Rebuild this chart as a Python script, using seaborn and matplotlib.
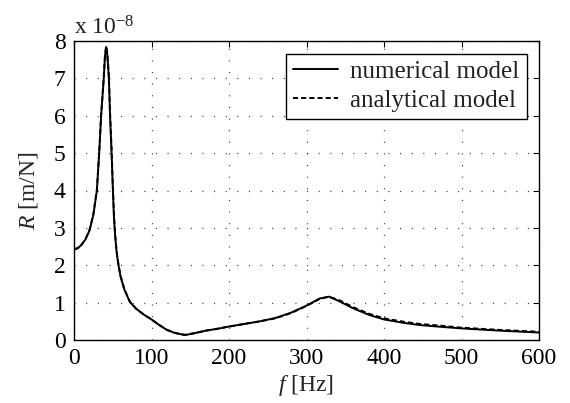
import os
import numpy as np
import pandas as pd
import matplotlib
matplotlib.use("Agg")
import matplotlib.pyplot as plt
from matplotlib import font_manager as fm
import seaborn as sns

# frequency [Hz]
freq = [0, 5, 10, 15, 20, 25, 29.5, 32.5, 35, 38.4, 40, 41.5, 43, 45, 46.5,
        48.5, 50, 51.5, 53, 55, 57, 60, 65, 72, 80, 90, 100, 110, 120, 130,
        143, 155, 170, 185, 200, 220, 240, 260, 280, 300, 317, 329, 343, 360,
        381, 400, 425, 446, 475, 500, 550, 600]
# receptance, numerical model [x 1e-8 m/N]
r_numerical = [2.42, 2.46, 2.55, 2.70, 2.93, 3.35, 4.0, 5.0, 6.0, 7.0, 7.6, 7.84,
               7.62, 7.0, 6.0, 5.0, 4.1, 3.3, 2.8, 2.35, 2.05, 1.7, 1.35, 1.02,
               0.84, 0.68, 0.55, 0.40, 0.27, 0.19, 0.13, 0.18, 0.25, 0.30, 0.36,
               0.43, 0.50, 0.59, 0.73, 0.92, 1.11, 1.16, 1.03, 0.85, 0.67, 0.55,
               0.46, 0.40, 0.35, 0.31, 0.25, 0.20]
# receptance, analytical model [x 1e-8 m/N]
r_analytical = [2.42, 2.46, 2.56, 2.71, 2.94, 3.37, 4.02, 5.02, 6.02, 7.02, 7.62, 7.86,
                7.68, 7.08, 6.1, 5.1, 4.2, 3.4, 2.85, 2.38, 2.07, 1.72, 1.36, 1.03,
                0.84, 0.68, 0.55, 0.40, 0.27, 0.19, 0.14, 0.18, 0.25, 0.30, 0.36,
                0.43, 0.50, 0.58, 0.72, 0.91, 1.10, 1.16, 1.06, 0.88, 0.70, 0.58,
                0.49, 0.43, 0.38, 0.33, 0.27, 0.22]

x_ticks = [0, 100, 200, 300, 400, 500, 600]
y_ticks = [0, 1, 2, 3, 4, 5, 6, 7, 8]
series_names = ["numerical model", "analytical model"]

# register any Times-like serif files explicitly
for path in fm.findSystemFonts():
    base = os.path.basename(path).lower()
    if ("liberationserif" in base or "tinos" in base or "times" in base
            or "nimbusroman" in base or "texgyretermes" in base):
        try:
            fm.fontManager.addfont(path)
        except Exception:
            pass
names = {f.name for f in fm.fontManager.ttflist}
serif = "DejaVu Serif"
for cand in ["Liberation Serif", "Times New Roman", "Tinos", "Nimbus Roman",
             "TeX Gyre Termes", "DejaVu Serif"]:
    if cand in names:
        serif = cand
        break

sns.set_theme(style="white")
plt.rcParams.update({
    "font.family": [serif, "DejaVu Serif"],
    "mathtext.fontset": "custom",
    "mathtext.rm": serif,
    "mathtext.it": serif + ":italic",
    "mathtext.default": "regular",
    "axes.edgecolor": "black",
    "axes.linewidth": 1.0,
    "xtick.direction": "in",
    "ytick.direction": "in",
    "xtick.major.size": 4,
    "ytick.major.size": 4,
    "xtick.color": "black",
    "ytick.color": "black",
    "text.color": "#222222",
    "axes.unicode_minus": False,
})

df_num = pd.DataFrame({"f": freq, "R": r_numerical})
df_ana = pd.DataFrame({"f": freq, "R": r_analytical})

fig = plt.figure(figsize=(5.70, 4.03), dpi=100)
ax = fig.add_axes([74 / 570, 1 - 340 / 403, 465 / 570, 299 / 403])

sns.lineplot(data=df_num, x="f", y="R", ax=ax, color="black", linewidth=1.4,
             estimator=None, sort=False, label=series_names[0])
sns.lineplot(data=df_ana, x="f", y="R", ax=ax, color="black", linewidth=1.4,
             estimator=None, sort=False, label=series_names[1])
ax.lines[1].set_dashes((2.6, 1.6))

ax.set_xlim(0, 600)
ax.set_ylim(0, 8)
ax.set_xticks(x_ticks)
ax.set_yticks(y_ticks)
ax.tick_params(axis="both", which="major", labelsize=17, top=True, right=True,
               width=0.8)
ax.tick_params(axis="x", pad=5.5)
ax.tick_params(axis="y", pad=6)
ax.grid(True, color="0.25", linewidth=0.9, linestyle=(0, (0.9, 8.4)))

ax.set_xlabel("$\\it{f}$ [Hz]", fontsize=17, labelpad=3)
ax.set_ylabel("$\\it{R}$ [m/N]", fontsize=17, labelpad=10)

ax.text(0.0, 1.005, "x 10$^{-8}$", transform=ax.transAxes, fontsize=17,
        ha="left", va="bottom")

leg = ax.legend(loc="upper right", fontsize=18, frameon=True, fancybox=False,
                handlelength=1.8, handletextpad=0.5, borderpad=0.28,
                labelspacing=0.25, borderaxespad=0.5)
leg.get_frame().set_edgecolor("black")
leg.get_frame().set_linewidth(1.0)
leg.get_frame().set_alpha(1)
for s in ax.spines.values():
    s.set_visible(True)
    s.set_color("black")

fig.savefig("out.png", dpi=100)
